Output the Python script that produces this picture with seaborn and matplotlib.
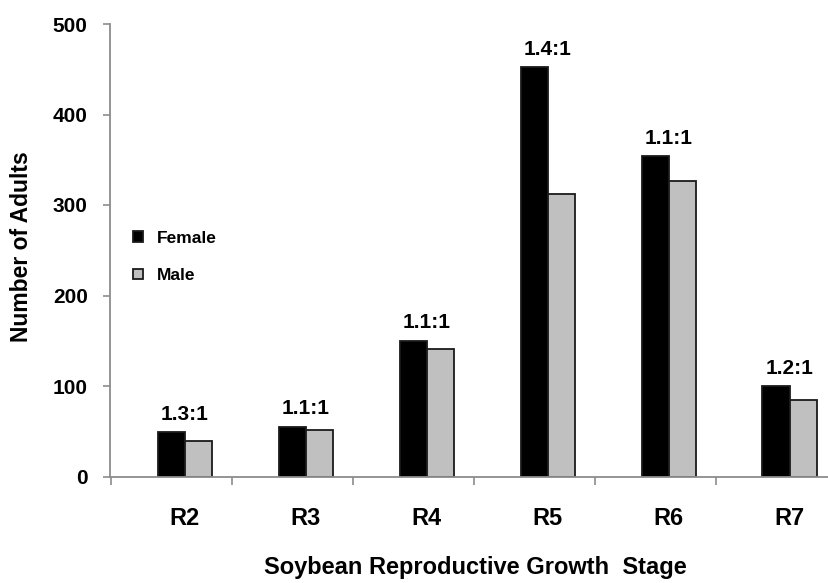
import numpy as np
import pandas as pd
import matplotlib
matplotlib.use("Agg")
import matplotlib.pyplot as plt
import seaborn as sns
from matplotlib.ticker import FixedLocator

# Adult counts by soybean reproductive stage
stages = ["R2", "R3", "R4", "R5", "R6", "R7"]
female = [49, 55, 150, 452, 354, 100]
male = [39, 51, 141, 312, 327, 84]
ratios = ["1.3:1", "1.1:1", "1.1:1", "1.4:1", "1.1:1", "1.2:1"]
yticks = [0, 100, 200, 300, 400, 500]

df = pd.DataFrame({
    "stage": stages * 2,
    "count": female + male,
    "sex": ["Female"] * len(stages) + ["Male"] * len(stages),
})

sns.set_style("white")
plt.rcParams["font.family"] = ["Liberation Sans", "DejaVu Sans"]
plt.rcParams["text.color"] = "black"
plt.rcParams["axes.labelcolor"] = "black"
plt.rcParams["xtick.labelcolor"] = "black"
plt.rcParams["ytick.labelcolor"] = "black"

W, H = 829, 583
fig = plt.figure(figsize=(W / 100, H / 100), dpi=100)
ax_l, ax_r, ax_b, ax_t = 110, 829, 476.5, 24
ax = fig.add_axes([ax_l / W, 1 - ax_b / H, (ax_r - ax_l) / W, (ax_b - ax_t) / H])

sns.barplot(data=df, x="stage", y="count", hue="sex",
            palette=["#000000", "#c0c0c0"], width=0.45,
            edgecolor="#1a1a1a", linewidth=1.3, ax=ax, legend=True)

ax.set_ylim(0, 500)
ax.set_xlim(-0.62, 5.325)

axis_gray = "#8c8c8c"
for side in ["top", "right"]:
    ax.spines[side].set_visible(False)
for side in ["left", "bottom"]:
    ax.spines[side].set_color(axis_gray)
    ax.spines[side].set_linewidth(1.3)

# y axis
ax.yaxis.set_major_locator(FixedLocator(yticks))
ax.set_yticklabels([str(v) for v in yticks], fontsize=15, fontweight="bold")
ax.tick_params(axis="y", which="major", direction="out", length=5, width=1.2,
               color=axis_gray, labelcolor="black", pad=11, left=True)

# x axis: category labels centred, tick marks between categories
ax.set_xticks(range(len(stages)))
ax.set_xticklabels(stages, fontsize=17, fontweight="bold")
ax.tick_params(axis="x", which="major", length=0, pad=22, labelcolor="black")
ax.xaxis.set_minor_locator(FixedLocator([k + 0.39 for k in range(-1, 5)]))
ax.tick_params(axis="x", which="minor", direction="out", length=6, width=1.2,
               color=axis_gray, bottom=True)

ax.set_ylabel("Number of Adults", fontsize=16.5, fontweight="bold",
              va="center", color="black")
ax.yaxis.set_label_coords(-0.1225, 0.507)
ax.set_xlabel("Soybean Reproductive Growth  Stage", fontsize=17,
              fontweight="bold", color="black")
ax.xaxis.label.set_verticalalignment("center")
ax.xaxis.set_label_coords(0.508, -0.202)

# sex-ratio labels above each pair
for i, (f, r) in enumerate(zip(female, ratios)):
    ax.annotate(r, xy=(i, f), xytext=(0, 9), textcoords="offset points",
                ha="center", va="baseline", fontsize=15, fontweight="bold",
                color="black")

handles, labels = ax.get_legend_handles_labels()
leg = ax.legend(handles, labels, loc="upper left", bbox_to_anchor=(0.032, 0.543),
                frameon=False, borderpad=0, borderaxespad=0,
                handlelength=0.55, handleheight=0.55, handletextpad=0.85,
                labelspacing=1.3, prop={"size": 12.5, "weight": "bold"})
for t in leg.get_texts():
    t.set_color("black")

fig.savefig("out.png", dpi=100)
